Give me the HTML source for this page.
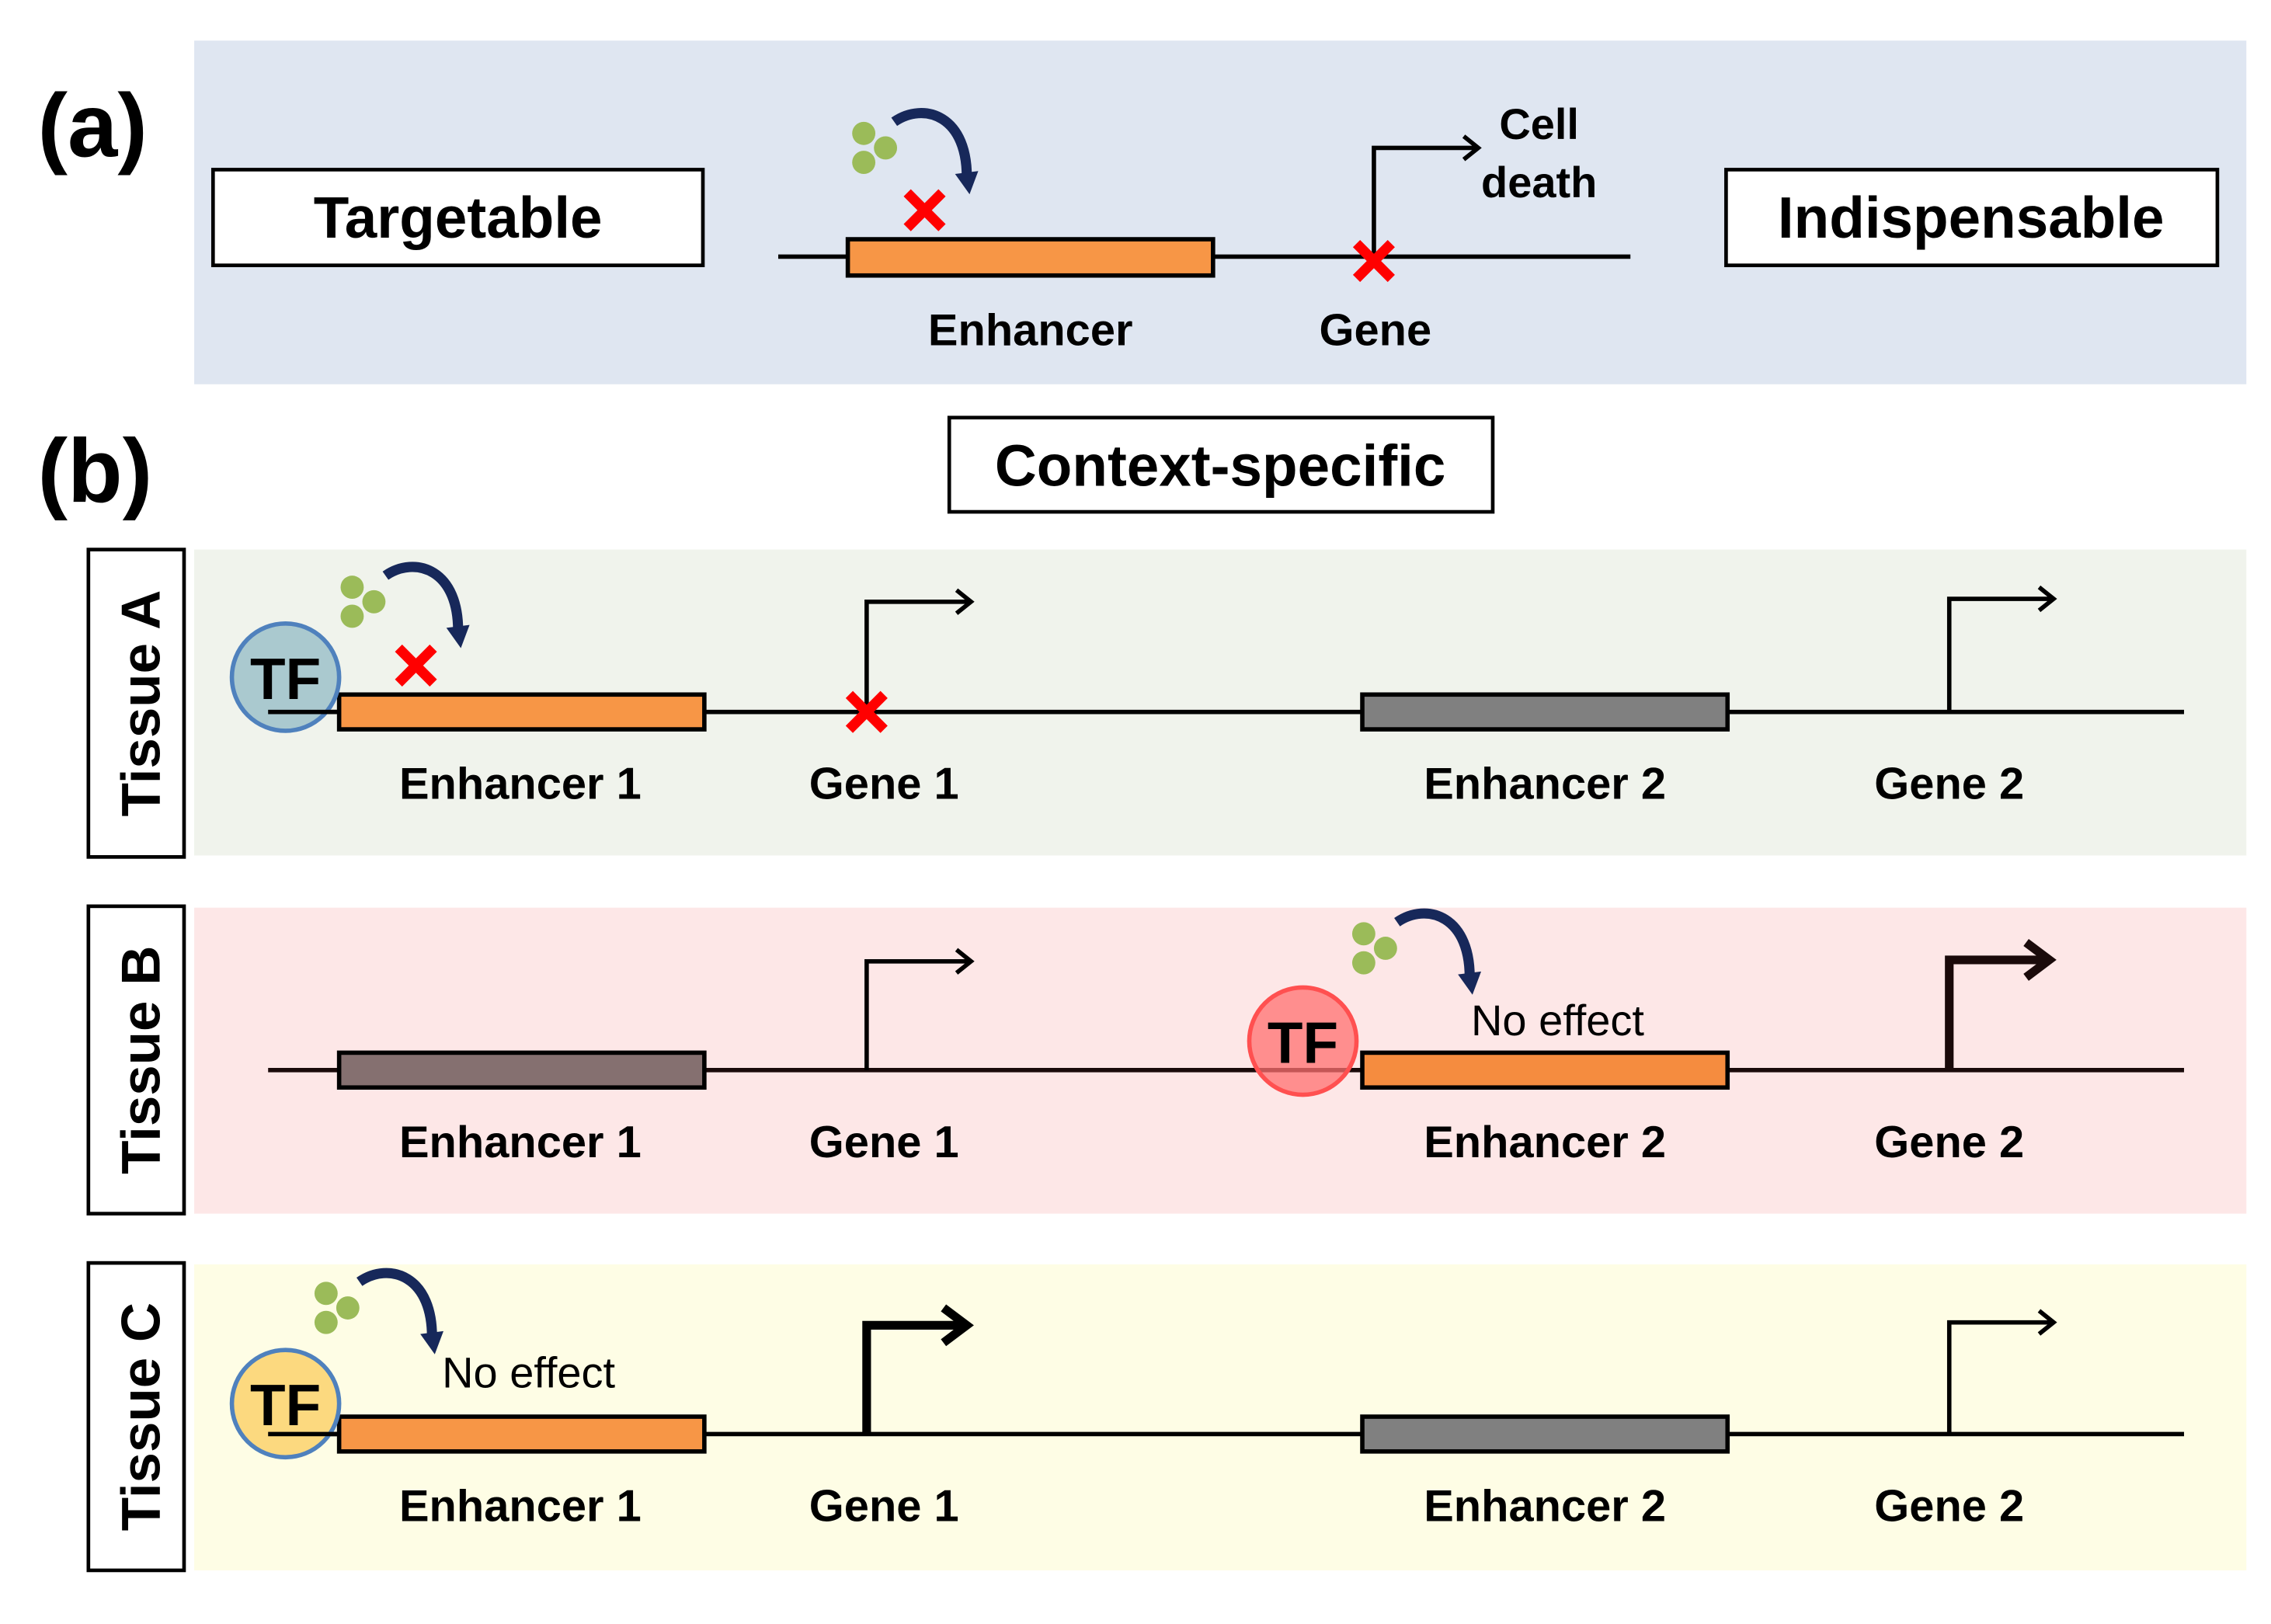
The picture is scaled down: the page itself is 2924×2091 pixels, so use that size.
<!DOCTYPE html>
<html><head><meta charset="utf-8"><style>html,body{margin:0;padding:0;background:#fff}svg{display:block}</style></head>
<body>
<svg width="2924" height="2091" viewBox="0 0 1567 1120" preserveAspectRatio="none" xmlns="http://www.w3.org/2000/svg" font-family="'Liberation Sans', Arial, sans-serif">
<defs>
<g id="dots"><circle cx="0" cy="0" r="8" fill="#9bbb59"/><circle cx="15" cy="10" r="8" fill="#9bbb59"/><circle cx="0" cy="20" r="8" fill="#9bbb59"/></g>
<g id="xm"><path d="M-12,-12 L12,12 M12,-12 L-12,12" stroke="#ff0000" stroke-width="7"/></g>
<g id="carrow"><path d="M0,0 C20,-14 52,-5 50,42" fill="none" stroke="#17285a" stroke-width="7"/><path d="M42,36 L52,50 L58,34 Z" fill="#17285a"/></g>
</defs>
<rect width="1570" height="1122" fill="#fff"/>
<!-- panel a -->
<rect x="134" y="28" width="1416" height="237" fill="#dfe6f1"/>
<text x="26" y="108" font-size="62" font-weight="bold">(a)</text>
<rect x="147" y="117" width="338" height="66" fill="#fff" stroke="#000" stroke-width="2.5"/>
<text x="316" y="164" font-size="40" font-weight="bold" text-anchor="middle">Targetable</text>
<rect x="1191" y="117" width="339" height="66" fill="#fff" stroke="#000" stroke-width="2.5"/>
<text x="1360" y="164" font-size="40" font-weight="bold" text-anchor="middle">Indispensable</text>
<line x1="537" y1="177" x2="1125" y2="177" stroke="#000" stroke-width="3"/>
<rect x="585" y="165" width="252" height="25" fill="#f79646" stroke="#000" stroke-width="3"/>
<path d="M948,177 V102 H1020 M1010,94 L1020,102 L1010,110" fill="none" stroke="#000" stroke-width="3"/>
<use href="#xm" x="948" y="180"/>
<use href="#xm" x="638" y="145"/>
<use href="#dots" x="596" y="92"/>
<use href="#carrow" x="617" y="84"/>
<text x="1062" y="96" font-size="30" font-weight="bold" text-anchor="middle">Cell</text>
<text x="1062" y="136" font-size="30" font-weight="bold" text-anchor="middle">death</text>
<text x="711" y="238" font-size="31" font-weight="bold" text-anchor="middle">Enhancer</text>
<text x="949" y="238" font-size="31" font-weight="bold" text-anchor="middle">Gene</text>
<!-- panel b -->
<text x="26" y="346" font-size="62" font-weight="bold">(b)</text>
<rect x="655" y="288" width="375" height="65" fill="#fff" stroke="#000" stroke-width="2.5"/>
<text x="842" y="335" font-size="40" font-weight="bold" text-anchor="middle">Context-specific</text>

<!-- Tissue A -->
<rect x="134" y="379" width="1416" height="211" fill="#f0f3ec"/>
<rect x="61" y="379" width="66" height="212" fill="#fff" stroke="#000" stroke-width="2.5"/>
<text transform="translate(110,485) rotate(-90)" font-size="38" font-weight="bold" text-anchor="middle">Tissue A</text>
<line x1="185" y1="491" x2="1507" y2="491" stroke="#000" stroke-width="3"/>
<rect x="234" y="479" width="252" height="24" fill="#f79646" stroke="#000" stroke-width="3"/>
<rect x="940" y="479" width="252" height="24" fill="#808080" stroke="#000" stroke-width="3"/>
<circle cx="197" cy="467" r="37" fill="#a5c6cd" stroke="#4f81bd" stroke-width="3" fill-opacity="0.95"/>
<text x="197" y="482" font-size="40" font-weight="bold" text-anchor="middle">TF</text>
<line x1="185" y1="491" x2="234" y2="491" stroke="#000" stroke-width="3"/>
<path d="M598,491 V415 H670 M660,407 L670,415 L660,423" fill="none" stroke="#000" stroke-width="3"/>
<path d="M1345,491 V413 H1417 M1407,405 L1417,413 L1407,421" fill="none" stroke="#000" stroke-width="3"/>
<use href="#xm" x="598" y="491"/>
<use href="#xm" x="287" y="459"/>
<use href="#dots" x="243" y="405"/>
<use href="#carrow" x="266" y="397"/>
<text x="359" y="551" font-size="31" font-weight="bold" text-anchor="middle">Enhancer 1</text>
<text x="610" y="551" font-size="31" font-weight="bold" text-anchor="middle">Gene 1</text>
<text x="1066" y="551" font-size="31" font-weight="bold" text-anchor="middle">Enhancer 2</text>
<text x="1345" y="551" font-size="31" font-weight="bold" text-anchor="middle">Gene 2</text>

<!-- Tissue B -->
<rect x="134" y="626" width="1416" height="211" fill="#fde7e7"/>
<rect x="61" y="625" width="66" height="212" fill="#fff" stroke="#000" stroke-width="2.5"/>
<text transform="translate(110,731) rotate(-90)" font-size="38" font-weight="bold" text-anchor="middle">Tissue B</text>
<line x1="185" y1="738" x2="1507" y2="738" stroke="#1a0a0a" stroke-width="3"/>
<rect x="234" y="726" width="252" height="24" fill="#857070" stroke="#000" stroke-width="3"/>
<rect x="940" y="726" width="252" height="24" fill="#f58c3f" stroke="#000" stroke-width="3"/>
<circle cx="899" cy="718" r="37" fill="#ff7070" fill-opacity="0.75" stroke="#ff5050" stroke-width="3"/>
<text x="899" y="733" font-size="40" font-weight="bold" text-anchor="middle">TF</text>
<path d="M598,738 V663 H670 M660,655 L670,663 L660,671" fill="none" stroke="#000" stroke-width="3"/>
<path d="M1345,738 V662 H1412 M1398,650 L1414,662 L1398,674" fill="none" stroke="#1a0a0a" stroke-width="6"/>
<use href="#dots" x="941" y="644"/>
<use href="#carrow" x="964" y="636"/>
<text x="1015" y="714" font-size="30" text-anchor="start">No effect</text>
<text x="359" y="798" font-size="31" font-weight="bold" text-anchor="middle">Enhancer 1</text>
<text x="610" y="798" font-size="31" font-weight="bold" text-anchor="middle">Gene 1</text>
<text x="1066" y="798" font-size="31" font-weight="bold" text-anchor="middle">Enhancer 2</text>
<text x="1345" y="798" font-size="31" font-weight="bold" text-anchor="middle">Gene 2</text>

<!-- Tissue C -->
<rect x="134" y="872" width="1416" height="211" fill="#fefde5"/>
<rect x="61" y="871" width="66" height="212" fill="#fff" stroke="#000" stroke-width="2.5"/>
<text transform="translate(110,977) rotate(-90)" font-size="38" font-weight="bold" text-anchor="middle">Tissue C</text>
<line x1="185" y1="989" x2="1507" y2="989" stroke="#000" stroke-width="3"/>
<rect x="234" y="977" width="252" height="24" fill="#f79646" stroke="#000" stroke-width="3"/>
<rect x="940" y="977" width="252" height="24" fill="#808080" stroke="#000" stroke-width="3"/>
<circle cx="197" cy="968" r="37" fill="#fcd97f" stroke="#4f81bd" stroke-width="3"/>
<text x="197" y="983" font-size="40" font-weight="bold" text-anchor="middle">TF</text>
<line x1="185" y1="989" x2="234" y2="989" stroke="#000" stroke-width="3"/>
<path d="M598,989 V914 H665 M651,902 L667,914 L651,926" fill="none" stroke="#000" stroke-width="6"/>
<path d="M1345,989 V912 H1417 M1407,904 L1417,912 L1407,920" fill="none" stroke="#000" stroke-width="3"/>
<use href="#dots" x="225" y="892"/>
<use href="#carrow" x="248" y="884"/>
<text x="305" y="957" font-size="30" text-anchor="start">No effect</text>
<text x="359" y="1049" font-size="31" font-weight="bold" text-anchor="middle">Enhancer 1</text>
<text x="610" y="1049" font-size="31" font-weight="bold" text-anchor="middle">Gene 1</text>
<text x="1066" y="1049" font-size="31" font-weight="bold" text-anchor="middle">Enhancer 2</text>
<text x="1345" y="1049" font-size="31" font-weight="bold" text-anchor="middle">Gene 2</text>
</svg>
</body></html>
